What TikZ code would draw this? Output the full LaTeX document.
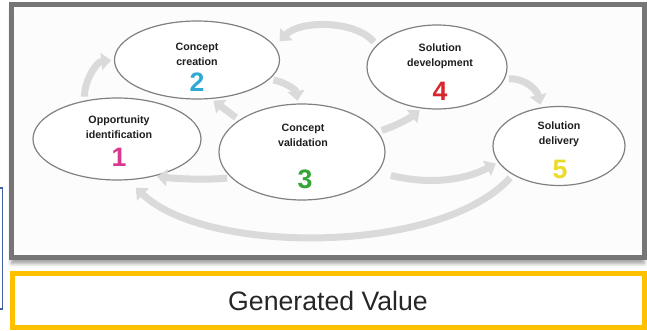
\documentclass[tikz,border=0pt]{standalone}
\usepackage{fontspec}
\setmainfont{Liberation Sans}
\usetikzlibrary{arrows.meta,shapes.geometric,shadows.blur}

\definecolor{framegray}{RGB}{118,118,118}
\definecolor{flowgray}{RGB}{218,218,218}
\definecolor{valuegold}{RGB}{255,192,0}
\definecolor{sidebl}{RGB}{63,95,160}
\definecolor{onecol}{RGB}{214,58,143}
\definecolor{twocol}{RGB}{47,169,212}
\definecolor{threecol}{RGB}{52,165,52}
\definecolor{fourcol}{RGB}{216,38,46}
\definecolor{fivecol}{RGB}{236,220,42}

\begin{document}
\begin{tikzpicture}[x=0.75pt,y=0.75pt,yscale=-1,xscale=1,
	stage/.style={ellipse, draw={rgb, 255:red, 128; green, 128; blue, 128}, line width=0.9pt, fill=white, inner sep=0pt},
	flow/.style={draw=flowgray, line width=5.25pt, -{Triangle[length=7.5pt,width=12.5pt]}, shorten <=3pt, shorten >=2pt},
	lbl/.style={align=center, inner sep=0.75pt, text={rgb, 255:red, 30; green, 30; blue, 30}, font=\fontsize{8}{11.25}\selectfont\bfseries},
	num/.style={inner sep=0.75pt, font=\fontsize{20}{20}\selectfont\bfseries}]
	\useasboundingbox (0,0) rectangle (647,331);

	%Shape: Rectangle [id:sideline] 
	\draw [sidebl, line width=0.8pt] (0,188) -- (2.5,188) -- (2.5,309) -- (0,309) ;
	%Shape: Rectangle [id:frame] 
	\draw [draw=framegray, line width=3.75pt, fill={rgb, 255:red, 252; green, 252; blue, 252}, blur shadow={shadow xshift=0pt, shadow yshift=-4pt, shadow blur radius=3pt, shadow opacity=40}] (11.5,5) rectangle (644,258) ;

	%Shape: Ellipse [id:e1] 
	\node [stage, minimum width=126pt, minimum height=61.5pt] (e1) at (117,139) {};
	%Shape: Ellipse [id:e2] 
	\node [stage, minimum width=123.75pt, minimum height=58.5pt] (e2) at (197,60) {};
	%Shape: Ellipse [id:e3] 
	\node [stage, minimum width=124.5pt, minimum height=72pt] (e3) at (302,152) {};
	%Shape: Ellipse [id:e4] 
	\node [stage, minimum width=105pt, minimum height=63pt] (e4) at (437,67) {};
	%Shape: Ellipse [id:e5] 
	\node [stage, minimum width=99pt, minimum height=59.25pt] (e5) at (559,146) {};

	%Curve Lines [id:a1] 
	\draw [flow] (e1.130) .. controls (84,82) and (96,62) .. (e2.180) ;
	%Curve Lines [id:a2] 
	\draw [flow] (e2.-15) .. controls (285,82) and (296,90) .. (e3.95) ;
	%Straight Lines [id:a3] 
	\draw [flow] (e3.153) -- (e2.-70) ;
	%Curve Lines [id:a4] 
	\draw [flow, shorten >=5pt] (e4.160) .. controls (355,20) and (300,20) .. (e2.10) ;
	%Curve Lines [id:a5] 
	\draw [flow] (e3.15) .. controls (398,125) and (410,118) .. (e4.-110) ;
	%Curve Lines [id:a6] 
	\draw [flow] (e4.-10) .. controls (525,78) and (537,90) .. (e5.115) ;
	%Curve Lines [id:a7] 
	\draw [flow, shorten <=10pt] (e3.-15) .. controls (430,185) and (465,180) .. (e5.-165) ;
	%Curve Lines [id:a8] 
	\draw [flow] (e3.-160) .. controls (205,180) and (180,179) .. (e1.-45) ;
	%Curve Lines [id:a9] 
	\draw [flow, shorten >=8pt] (e5.-148) .. controls (440,255) and (206,255) .. (e1.-75) ;

	% Text Node
	\node [lbl] (t1) at (119,127) {Opportunity\\identification};
	% Text Node
	\node [num, text=onecol] (n1) at (119,157) {1};
	% Text Node
	\node [lbl] (t2) at (197,54.5) {Concept\\creation};
	% Text Node
	\node [num, text=twocol] (n2) at (197,82) {2};
	% Text Node
	\node [lbl] (t3) at (303,135.5) {Concept\\validation};
	% Text Node
	\node [num, text=threecol] (n3) at (305,179) {3};
	% Text Node
	\node [lbl] (t4) at (440,56.5) {Solution\\development};
	% Text Node
	\node [num, text=fourcol] (n4) at (440,91) {4};
	% Text Node
	\node [lbl] (t5) at (559,134) {Solution\\delivery};
	% Text Node
	\node [num, text=fivecol] (n5) at (560,169) {5};

	%Shape: Rectangle [id:value] 
	\draw [draw=valuegold, line width=3.75pt] (12,273.5) rectangle (644,327.5) ;
	% Text Node
	\node [inner sep=0.75pt, text={rgb, 255:red, 38; green, 38; blue, 38}, font=\fontsize{20}{24}\selectfont] (gv) at (328,300.5) {Generated Value};

\end{tikzpicture}
\end{document}
